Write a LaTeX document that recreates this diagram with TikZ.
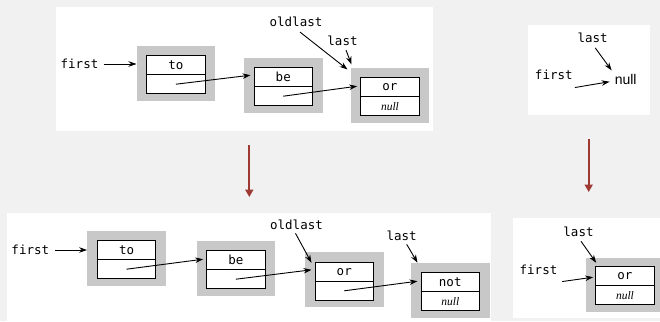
\documentclass[tikz,border=0pt]{standalone}
\usepackage{fontspec}
\setmainfont{Liberation Serif}
\setsansfont{Liberation Sans}
\setmonofont{DejaVu Sans Mono}
\usetikzlibrary{arrows.meta,calc}
\definecolor{bg}{HTML}{F1F1F1}
\definecolor{boxgray}{HTML}{C8C8C8}
\definecolor{darkred}{HTML}{9E3A32}
\tikzset{
 panel/.style={fill=white,draw=none},
 graybox/.style={fill=boxgray,draw=none,minimum width=78.5pt,minimum height=55pt,inner sep=0pt},
 cell/.style={draw=black,fill=white,line width=1pt,minimum width=58.5pt,minimum height=19pt,inner sep=0pt,font=\ttfamily\fontsize{12.5}{12.5}\selectfont},
 nullcell/.style={cell,font=\itshape\fontsize{11.5}{11.5}\selectfont},
 lbl/.style={inner sep=0pt,font=\ttfamily\fontsize{12.5}{12.5}\selectfont},
 sanslbl/.style={inner sep=0pt,font=\sffamily\fontsize{14}{14}\selectfont},
 ptr/.style={-{Stealth[length=8pt,width=5.5pt]},line width=0.9pt},
 flow/.style={-{Triangle[length=7.5pt,width=8pt]},darkred,line width=2pt},
}
% \lnode{name}{inner x}{inner y}{top text}{bottom text}
\newcommand{\lnode}[5]{%
 \node[graybox] (#1) at (#2+29.25,#3+17.5) {};
 \node[cell] (#1t) at (#2+29.25,#3+9.5) {#4};
 \node[nullcell] (#1b) at (#2+29.25,#3+28.5) {#5};
}
\begin{document}
\begin{tikzpicture}[x=1pt,y=-1pt]
\useasboundingbox (0,0) rectangle (660,321);
\fill[bg] (0,0) rectangle (660,321);
% panels
\fill[panel] (56,7.3) rectangle (433,131);
\fill[panel] (527.7,25) rectangle (650,115);
\fill[panel] (7,213) rectangle (491,321);
\fill[panel] (513,218) rectangle (660,318);

% ---------- top-left ----------
\lnode{A1}{146.7}{55.7}{to}{}
\lnode{B1}{254}{67.7}{be}{}
\lnode{C1}{360.7}{77.7}{or}{null}
\node[lbl] (f1) at (79.5,64) {first};
\node[lbl] (o1) at (296,22) {oldlast};
\node[lbl] (l1) at (342.5,41) {last};
\draw[ptr,shorten <=5pt] (f1.east) -- (f1.east -| A1.west);
\draw[ptr] (A1b.center) -- ([xshift=-3pt,yshift=2pt]B1t.west);
\draw[ptr] (B1b.center) -- ([xshift=-3pt,yshift=1pt]C1t.west);
\draw[ptr] ($(o1.south)+(4,5)$) -- ($(C1.north west)+(-3,2)$);
\draw[ptr] ($(l1.south)+(3.5,4)$) -- ($(C1.north west)+(1,-3)$);

% ---------- top-right ----------
\node[lbl] (l2) at (592.7,38.3) {last};
\node[lbl] (f2) at (553.8,75) {first};
\node[sanslbl] (n2) at (625.7,79.7) {null};
\draw[ptr] ($(l2.south)+(2.5,4.5)$) -- ($(n2.north west)+(-3,-4)$);
\draw[ptr] ($(f2.south east)+(2,7.5)$) -- ($(n2.west)+(-5,2)$);

% ---------- transitions ----------
\coordinate (r1a) at (249.3,145);
\coordinate (r1b) at (249.3,197);
\coordinate (r2a) at (588.7,139.3);
\coordinate (r2b) at (588.7,192);
\draw[flow] (r1a) -- (r1b);
\draw[flow] (r2a) -- (r2b);

% ---------- bottom-left ----------
\lnode{A3}{97.3}{240.7}{to}{}
\lnode{B3}{206.7}{250.7}{be}{}
\lnode{C3}{315}{262.3}{or}{}
\lnode{D3}{421}{272.7}{not}{null}
\node[lbl] (f3) at (30.3,250) {first};
\node[lbl] (o3) at (296.5,224.8) {oldlast};
\node[lbl] (l3) at (401.7,235.8) {last};
\draw[ptr,shorten <=6pt] (f3.east) -- (f3.east -| A3.west);
\draw[ptr] (A3b.center) -- ([xshift=-3pt,yshift=1pt]B3t.west);
\draw[ptr] (B3b.center) -- ([xshift=-3pt,yshift=2pt]C3t.west);
\draw[ptr] (C3b.center) -- ([xshift=-3pt,yshift=1pt]D3t.west);
\draw[ptr] ($(o3.south)+(-1,3.5)$) -- ($(C3t.north west)+(-3,1)$);
\draw[ptr] ($(l3.south)+(5,3.5)$) -- ($(D3t.north west)+(-3,-9.5)$);

% ---------- bottom-right ----------
\node[graybox,minimum width=74pt,minimum height=54pt] (E4) at (623,284.7) {};
\node[cell] (E4t) at (624.95,276.2) {or};
\node[nullcell] (E4b) at (624.95,295.2) {null};
\node[lbl] (l4) at (578.5,232.2) {last};
\node[lbl] (f4) at (538.5,269.5) {first};
\draw[ptr] ($(l4.south)+(2.5,4)$) -- ($(E4t.north west)+(1,-3.4)$);
\draw[ptr] ($(f4.south east)+(4.7,7)$) -- ($(E4t.west)+(-2,1)$);
\end{tikzpicture}
\end{document}
